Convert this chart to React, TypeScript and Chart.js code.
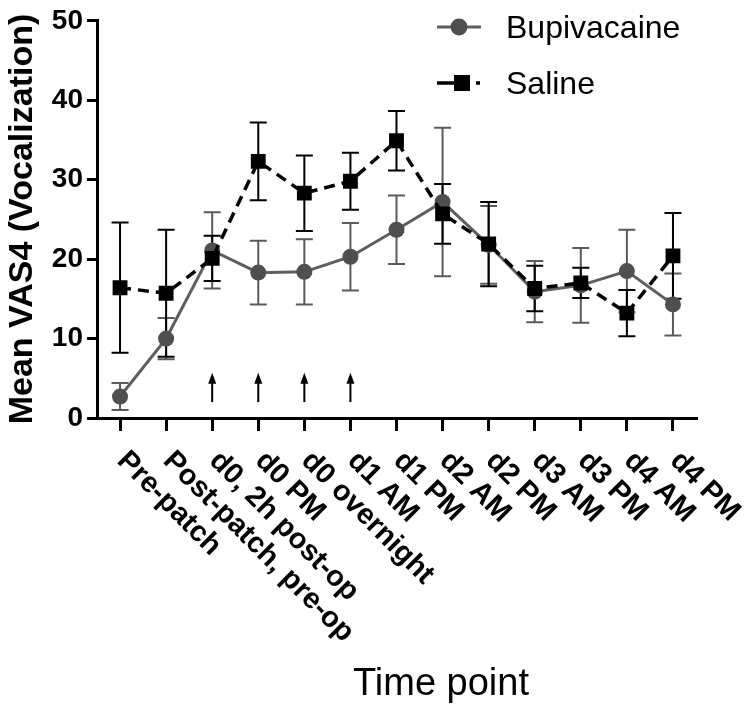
import React, { useEffect, useRef } from 'react';
import { Chart, registerables } from 'chart.js';

Chart.register(...registerables);

const categories = [
  'Pre-patch',
  'Post-patch, pre-op',
  'd0, 2h post-op',
  'd0 PM',
  'd0 overnight',
  'd1 AM',
  'd1 PM',
  'd2 AM',
  'd2 PM',
  'd3 AM',
  'd3 PM',
  'd4 AM',
  'd4 PM',
];

const bupivacaine = [2.7, 10.0, 21.1, 18.3, 18.4, 20.3, 23.7, 27.2, 21.8, 15.9, 16.7, 18.5, 14.3];
const bupivacaineSem = [1.7, 2.6, 4.8, 4.0, 4.1, 4.25, 4.3, 9.35, 4.9, 3.85, 4.7, 5.2, 3.9];

const saline = [16.4, 15.7, 20.1, 32.3, 28.3, 29.8, 34.9, 25.7, 21.9, 16.3, 17.0, 13.2, 20.4];
const salineSem = [8.2, 8.0, 2.85, 4.9, 4.75, 3.6, 3.75, 3.75, 5.3, 2.85, 1.9, 2.9, 5.4];

const seriesNames = ['Bupivacaine', 'Saline'];
const yMin = 0;
const yMax = 50;
const yStep = 10;

// dosing arrows (category indices, from/to values on the y scale)
const arrowIndices = [2, 3, 4, 5];
const arrowFrom = 2.0;
const arrowTo = 5.7;

const xTitle = 'Time point';
const yTitle = 'Mean VAS4 (Vocalization)';

const FONT = '"Liberation Sans", Arial, Helvetica, sans-serif';
const BUPI_LINE = '#5e5e5e';
const BUPI_POINT = '#4f4f4f';
const BUPI_ERR = '#5a5a5a';

const customPlugin = {
  id: 'customDraw',
  beforeDatasetsDraw(chart: any) {
    const ctx = chart.ctx;
    const xs = chart.scales.x;
    const ys = chart.scales.y;
    const drawErr = (vals: number[], errs: number[], color: string) => {
      ctx.save();
      ctx.strokeStyle = color;
      ctx.lineWidth = 2;
      vals.forEach((v, i) => {
        const px = xs.getPixelForValue(i);
        const top = ys.getPixelForValue(v + errs[i]);
        const bot = ys.getPixelForValue(v - errs[i]);
        ctx.beginPath();
        ctx.moveTo(px, top);
        ctx.lineTo(px, bot);
        ctx.moveTo(px - 8.5, top);
        ctx.lineTo(px + 8.5, top);
        ctx.moveTo(px - 8.5, bot);
        ctx.lineTo(px + 8.5, bot);
        ctx.stroke();
      });
      ctx.restore();
    };
    drawErr(bupivacaine, bupivacaineSem, BUPI_ERR);
    drawErr(saline, salineSem, '#000');
  },
  afterDraw(chart: any) {
    const ctx = chart.ctx;
    const xs = chart.scales.x;
    const ys = chart.scales.y;

    // arrows
    ctx.save();
    ctx.strokeStyle = '#000';
    ctx.fillStyle = '#000';
    ctx.lineWidth = 2;
    arrowIndices.forEach((i) => {
      const px = xs.getPixelForValue(i);
      const y0 = ys.getPixelForValue(arrowFrom);
      const y1 = ys.getPixelForValue(arrowTo);
      ctx.beginPath();
      ctx.moveTo(px, y0);
      ctx.lineTo(px, y1 + 8);
      ctx.stroke();
      ctx.beginPath();
      ctx.moveTo(px, y1);
      ctx.lineTo(px - 4, y1 + 11);
      ctx.lineTo(px + 4, y1 + 11);
      ctx.closePath();
      ctx.fill();
    });
    ctx.restore();

    // rotated x tick labels
    ctx.save();
    ctx.fillStyle = '#000';
    ctx.font = `bold 29px ${FONT}`;
    ctx.textAlign = 'left';
    ctx.textBaseline = 'alphabetic';
    categories.forEach((c, i) => {
      const px = xs.getPixelForValue(i);
      ctx.save();
      ctx.translate(px - 4, xs.top + 44);
      ctx.rotate(Math.PI / 4);
      ctx.fillText(c, 0, 0);
      ctx.restore();
    });
    ctx.restore();

    // axis titles
    ctx.save();
    ctx.fillStyle = '#000';
    ctx.font = `38px ${FONT}`;
    ctx.textAlign = 'center';
    ctx.textBaseline = 'alphabetic';
    ctx.fillText(xTitle, 441, 695);
    ctx.font = `bold 34px ${FONT}`;
    ctx.translate(23, 219);
    ctx.rotate(-Math.PI / 2);
    ctx.textBaseline = 'middle';
    ctx.fillText(yTitle, 0, 0);
    ctx.restore();

    // legend
    ctx.save();
    // Bupivacaine
    ctx.strokeStyle = BUPI_LINE;
    ctx.lineWidth = 3;
    ctx.beginPath();
    ctx.moveTo(437, 27);
    ctx.lineTo(481, 27);
    ctx.stroke();
    ctx.fillStyle = BUPI_POINT;
    ctx.beginPath();
    ctx.arc(459, 27, 8.5, 0, Math.PI * 2);
    ctx.fill();
    // Saline
    ctx.strokeStyle = '#000';
    ctx.lineWidth = 3.5;
    ctx.beginPath();
    ctx.moveTo(437, 83);
    ctx.lineTo(455, 83);
    ctx.moveTo(476, 83);
    ctx.lineTo(480, 83);
    ctx.stroke();
    ctx.fillStyle = '#000';
    ctx.fillRect(454, 75, 16, 16);
    ctx.font = `32px ${FONT}`;
    ctx.textAlign = 'left';
    ctx.textBaseline = 'alphabetic';
    ctx.fillText(seriesNames[0], 506, 38);
    ctx.fillText(seriesNames[1], 506, 94);
    ctx.restore();
  },
};

export default function App() {
  const ref = useRef<HTMLCanvasElement>(null);
  useEffect(() => {
    if (!ref.current) return;
    const chart = new Chart(ref.current, {
      type: 'line',
      data: {
        labels: categories,
        datasets: [
          {
            label: seriesNames[0],
            data: bupivacaine,
            borderColor: BUPI_LINE,
            borderWidth: 3,
            pointStyle: 'circle',
            pointRadius: 8,
            pointBackgroundColor: BUPI_POINT,
            pointBorderColor: BUPI_POINT,
            pointBorderWidth: 0,
            order: 1,
          },
          {
            label: seriesNames[1],
            data: saline,
            borderColor: '#000',
            borderWidth: 3.5,
            borderDash: [11, 7],
            pointStyle: 'rect',
            pointRadius: 10.5,
            pointBackgroundColor: '#000',
            pointBorderColor: '#000',
            pointBorderWidth: 0,
            order: 0,
          },
        ],
      },
      options: {
        animation: false,
        responsive: true,
        maintainAspectRatio: false,
        layout: { padding: { top: 20, right: 54, bottom: 0, left: 0 } },
        plugins: {
          legend: { display: false },
          tooltip: { enabled: false },
        },
        scales: {
          x: {
            type: 'category',
            offset: true,
            ticks: { display: false },
            grid: {
              display: true,
              drawOnChartArea: false,
              drawTicks: true,
              tickLength: 13,
              color: '#000',
              lineWidth: 3,
              offset: false,
            },
            border: { display: true, color: '#000', width: 3 },
            afterFit: (scale: any) => {
              scale.height = 289;
            },
          },
          y: {
            min: yMin,
            max: yMax,
            ticks: {
              stepSize: yStep,
              color: '#000',
              padding: 4,
              font: { family: FONT, size: 28, weight: 'bold' },
            },
            grid: {
              display: true,
              drawOnChartArea: false,
              drawTicks: true,
              tickLength: 10,
              color: '#000',
              lineWidth: 3,
            },
            border: { display: true, color: '#000', width: 3 },
            afterFit: (scale: any) => {
              scale.width = 97;
            },
          },
        },
      },
      plugins: [customPlugin],
    });
    return () => chart.destroy();
  }, []);
  return (
    <div style={{ position: 'absolute', left: 0, top: 0, width: 750, height: 707, background: '#fff' }}>
      <canvas ref={ref} />
    </div>
  );
}
